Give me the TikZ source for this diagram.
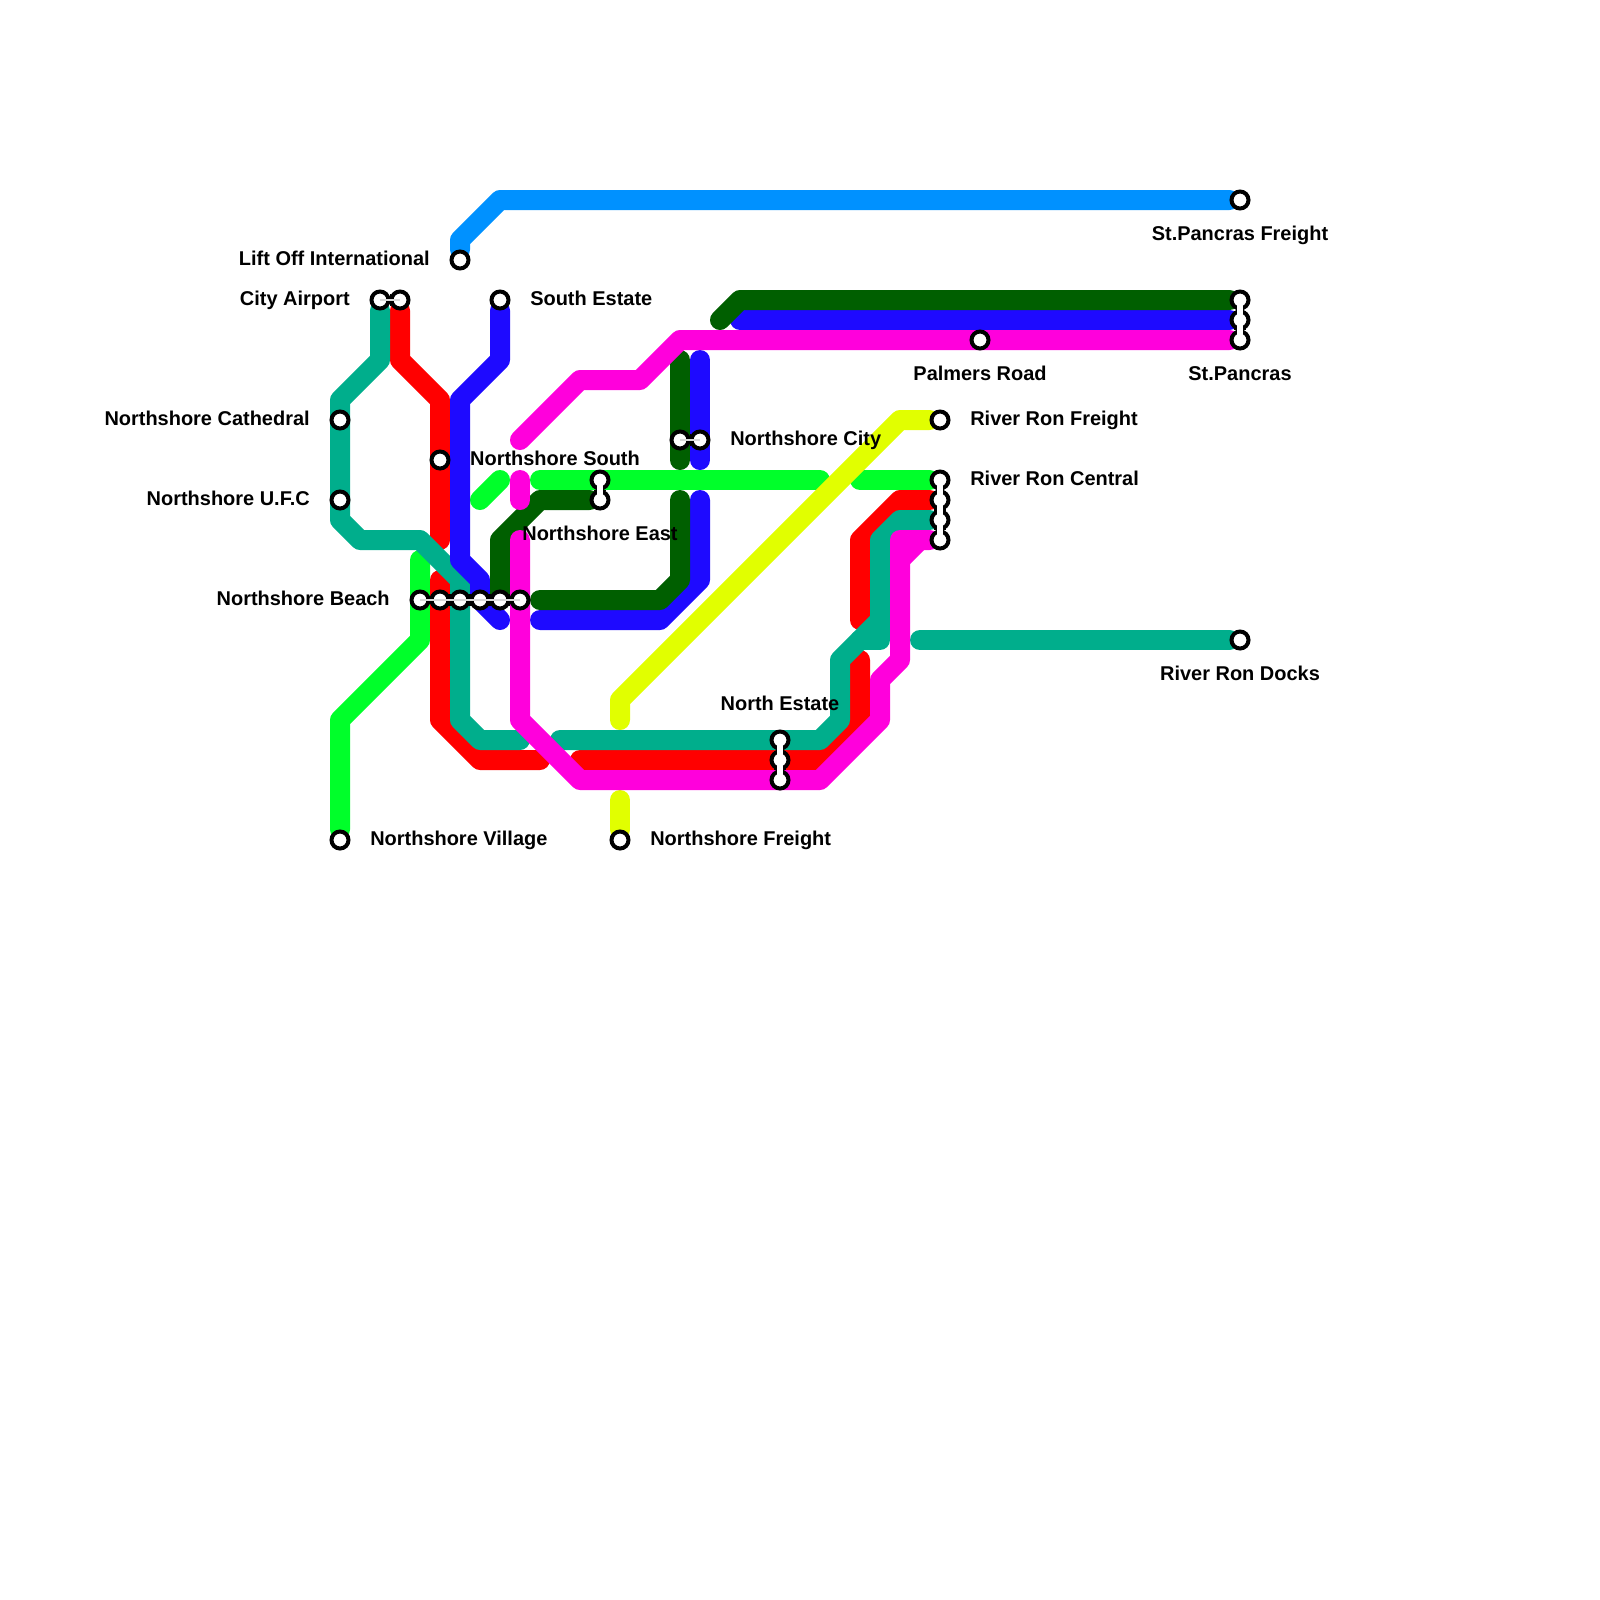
\documentclass[tikz,border=0pt]{standalone}
\usepackage{fontspec}
\setmainfont{Liberation Sans}
\usetikzlibrary{backgrounds}
\definecolor{teal1}{RGB}{0,174,140}
\definecolor{red1}{RGB}{255,0,0}
\definecolor{blue1}{RGB}{30,10,255}
\definecolor{green1}{RGB}{0,95,0}
\definecolor{pink1}{RGB}{255,0,220}
\definecolor{lime1}{RGB}{0,255,42}
\definecolor{yellow1}{RGB}{225,255,0}
\definecolor{sky1}{RGB}{0,145,255}
\tikzset{
	route/.style={line width=.5cm, line cap=round, line join=round},
	station/.style={circle, draw=black, fill=white, line width=.1cm, minimum size=.425cm, inner sep=0pt},
	linkout/.style={draw=black, line width=.29cm},
	linkin/.style={draw=white, line width=.14cm},
	linkflat/.style={draw=white!85!black, line width=.07cm},
	lbl/.style={font=\fontsize{14.2pt}{16pt}\selectfont\bfseries, inner sep=0pt, text height=11.4pt, text depth=3pt}
}

\begin{document}
\begin{tikzpicture}[x=.5cm, y=-.5cm]
	\useasboundingbox (0,0) rectangle (80,80);
	% stations
	\node[station] (LO) at (23,13) {};
	\node[station] (CA) at (19,15) {};
	\node[station] (CB) at (20,15) {};
	\node[station] (SE) at (25,15) {};
	\node[station] (NC) at (17,21) {};
	\node[station] (NU) at (17,25) {};
	\node[station] (NS) at (22,23) {};
	\node[station] (NEa) at (30,24) {};
	\node[station] (NEb) at (30,25) {};
	\node[station] (NYa) at (34,22) {};
	\node[station] (NYb) at (35,22) {};
	\node[station] (NBa) at (21,30) {};
	\node[station] (NBb) at (22,30) {};
	\node[station] (NBc) at (23,30) {};
	\node[station] (NBd) at (24,30) {};
	\node[station] (NBe) at (25,30) {};
	\node[station] (NBf) at (26,30) {};
	\node[station] (NTa) at (39,37) {};
	\node[station] (NTb) at (39,38) {};
	\node[station] (NTc) at (39,39) {};
	\node[station] (NV) at (17,42) {};
	\node[station] (NF) at (31,42) {};
	\node[station] (PR) at (49,17) {};
	\node[station] (SF) at (62,10) {};
	\node[station] (SPa) at (62,15) {};
	\node[station] (SPb) at (62,16) {};
	\node[station] (SPc) at (62,17) {};
	\node[station] (RF) at (47,21) {};
	\node[station] (RCa) at (47,24) {};
	\node[station] (RCb) at (47,25) {};
	\node[station] (RCc) at (47,26) {};
	\node[station] (RCd) at (47,27) {};
	\node[station] (RD) at (62,32) {};

	\begin{scope}[on background layer]
		% lime
		\draw[route, lime1] (NV)--(17,36)--(21,32)--(21,28);
		\draw[route, lime1] (24,25)--(25,24);
		\draw[route, lime1] (27,24)--(41,24);
		\draw[route, lime1] (43,24)--(RCa);
		% red
		\draw[route, red1] (CB)--(20,18)--(22,20)--(22,27);
		\draw[route, red1] (22,29)--(22,36)--(24,38)--(27,38);
		\draw[route, red1] (29,38)--(41,38)--(43,36)--(43,33);
		\draw[route, red1] (43,31)--(43,27)--(45,25)--(RCb);
		% sky
		\draw[route, sky1] (LO)--(23,12)--(25,10)--(SF);
		% yellow
		\draw[route, yellow1] (31,36)--(31,35)--(45,21)--(RF);
		\draw[route, yellow1] (31,40)--(NF);
		% teal
		\draw[route, teal1] (CA)--(19,18)--(17,20)--(17,26)--(18,27)--(21,27)--(23,29)--(23,36)--(24,37)--(26,37);
		\draw[route, teal1] (28,37)--(41,37)--(42,36)--(42,33)--(44,31)--(44,27)--(45,26)--(RCc);
		\draw[route, teal1] (43,32)--(44,32)--(44,31);
		\draw[route, teal1] (46,32)--(RD);
		% blue
		\draw[route, blue1] (SE)--(25,18)--(23,20)--(23,28)--(24,29)--(24,30)--(25,31);
		\draw[route, blue1] (27,31)--(33,31)--(35,29)--(35,25);
		\draw[route, blue1] (35,18)--(35,23);
		\draw[route, blue1] (37,16)--(SPb);
		% green
		\draw[route, green1] (25,30)--(25,27)--(27,25)--(NEb);
		\draw[route, green1] (27,30)--(33,30)--(34,29)--(34,25);
		\draw[route, green1] (34,18)--(34,23);
		\draw[route, green1] (36,16)--(37,15)--(SPa);
		% pink
		\draw[route, pink1] (26,22)--(29,19)--(32,19)--(34,17)--(SPc);
		\draw[route, pink1] (26,24)--(26,25);
		\draw[route, pink1] (26,27)--(26,36)--(29,39)--(41,39)--(44,36)--(44,34)--(45,33)--(45,27)--(RCd);
		\draw[route, pink1] (45,28)--(46,27);
		% links
		\draw[linkout] (CA)--(CB);
		\draw[linkout] (NEa)--(NEb);
		\draw[linkout] (NYa)--(NYb);
		\draw[linkout] (NBa)--(NBf);
		\draw[linkout] (NTa)--(NTc);
		\draw[linkout] (SPa)--(SPc);
		\draw[linkout] (RCa)--(RCd);
	\end{scope}
	\draw[linkflat] (CA.center)--(CB.center);
	\draw[linkin] (NEa.center)--(NEb.center);
	\draw[linkflat] (NYa.center)--(NYb.center);
	\draw[linkflat] (NBa.center)--(NBf.center);
	\draw[linkin] (NTa.center)--(NTc.center);
	\draw[linkin] (SPa.center)--(SPc.center);
	\draw[linkin] (RCa.center)--(RCd.center);

	% labels
	\node[lbl, anchor=east] (LLO) at (21.5,13) {Lift Off International};
	\node[lbl, anchor=east] (LCA) at (17.5,15) {City Airport};
	\node[lbl, anchor=west] (LSE) at (26.5,15) {South Estate};
	\node[lbl, anchor=east] (LNC) at (15.5,21) {Northshore Cathedral};
	\node[lbl, anchor=east] (LNU) at (15.5,25) {Northshore U.F.C};
	\node[lbl] (LNS) at (27.75,23) {Northshore South};
	\node[lbl] (LNE) at (30,26.75) {Northshore East};
	\node[lbl, anchor=west] (LNY) at (36.5,22) {Northshore City};
	\node[lbl, anchor=east] (LNB) at (19.5,30) {Northshore Beach};
	\node[lbl] (LNT) at (39,35.25) {North Estate};
	\node[lbl, anchor=west] (LNV) at (18.5,42) {Northshore Village};
	\node[lbl, anchor=west] (LNF) at (32.5,42) {Northshore Freight};
	\node[lbl] (LPR) at (49,18.75) {Palmers Road};
	\node[lbl] (LSF) at (62,11.75) {St.Pancras Freight};
	\node[lbl] (LSP) at (62,18.75) {St.Pancras};
	\node[lbl, anchor=west] (LRF) at (48.5,21) {River Ron Freight};
	\node[lbl, anchor=west] (LRC) at (48.5,24) {River Ron Central};
	\node[lbl] (LRD) at (62,33.75) {River Ron Docks};
\end{tikzpicture}
\end{document}
